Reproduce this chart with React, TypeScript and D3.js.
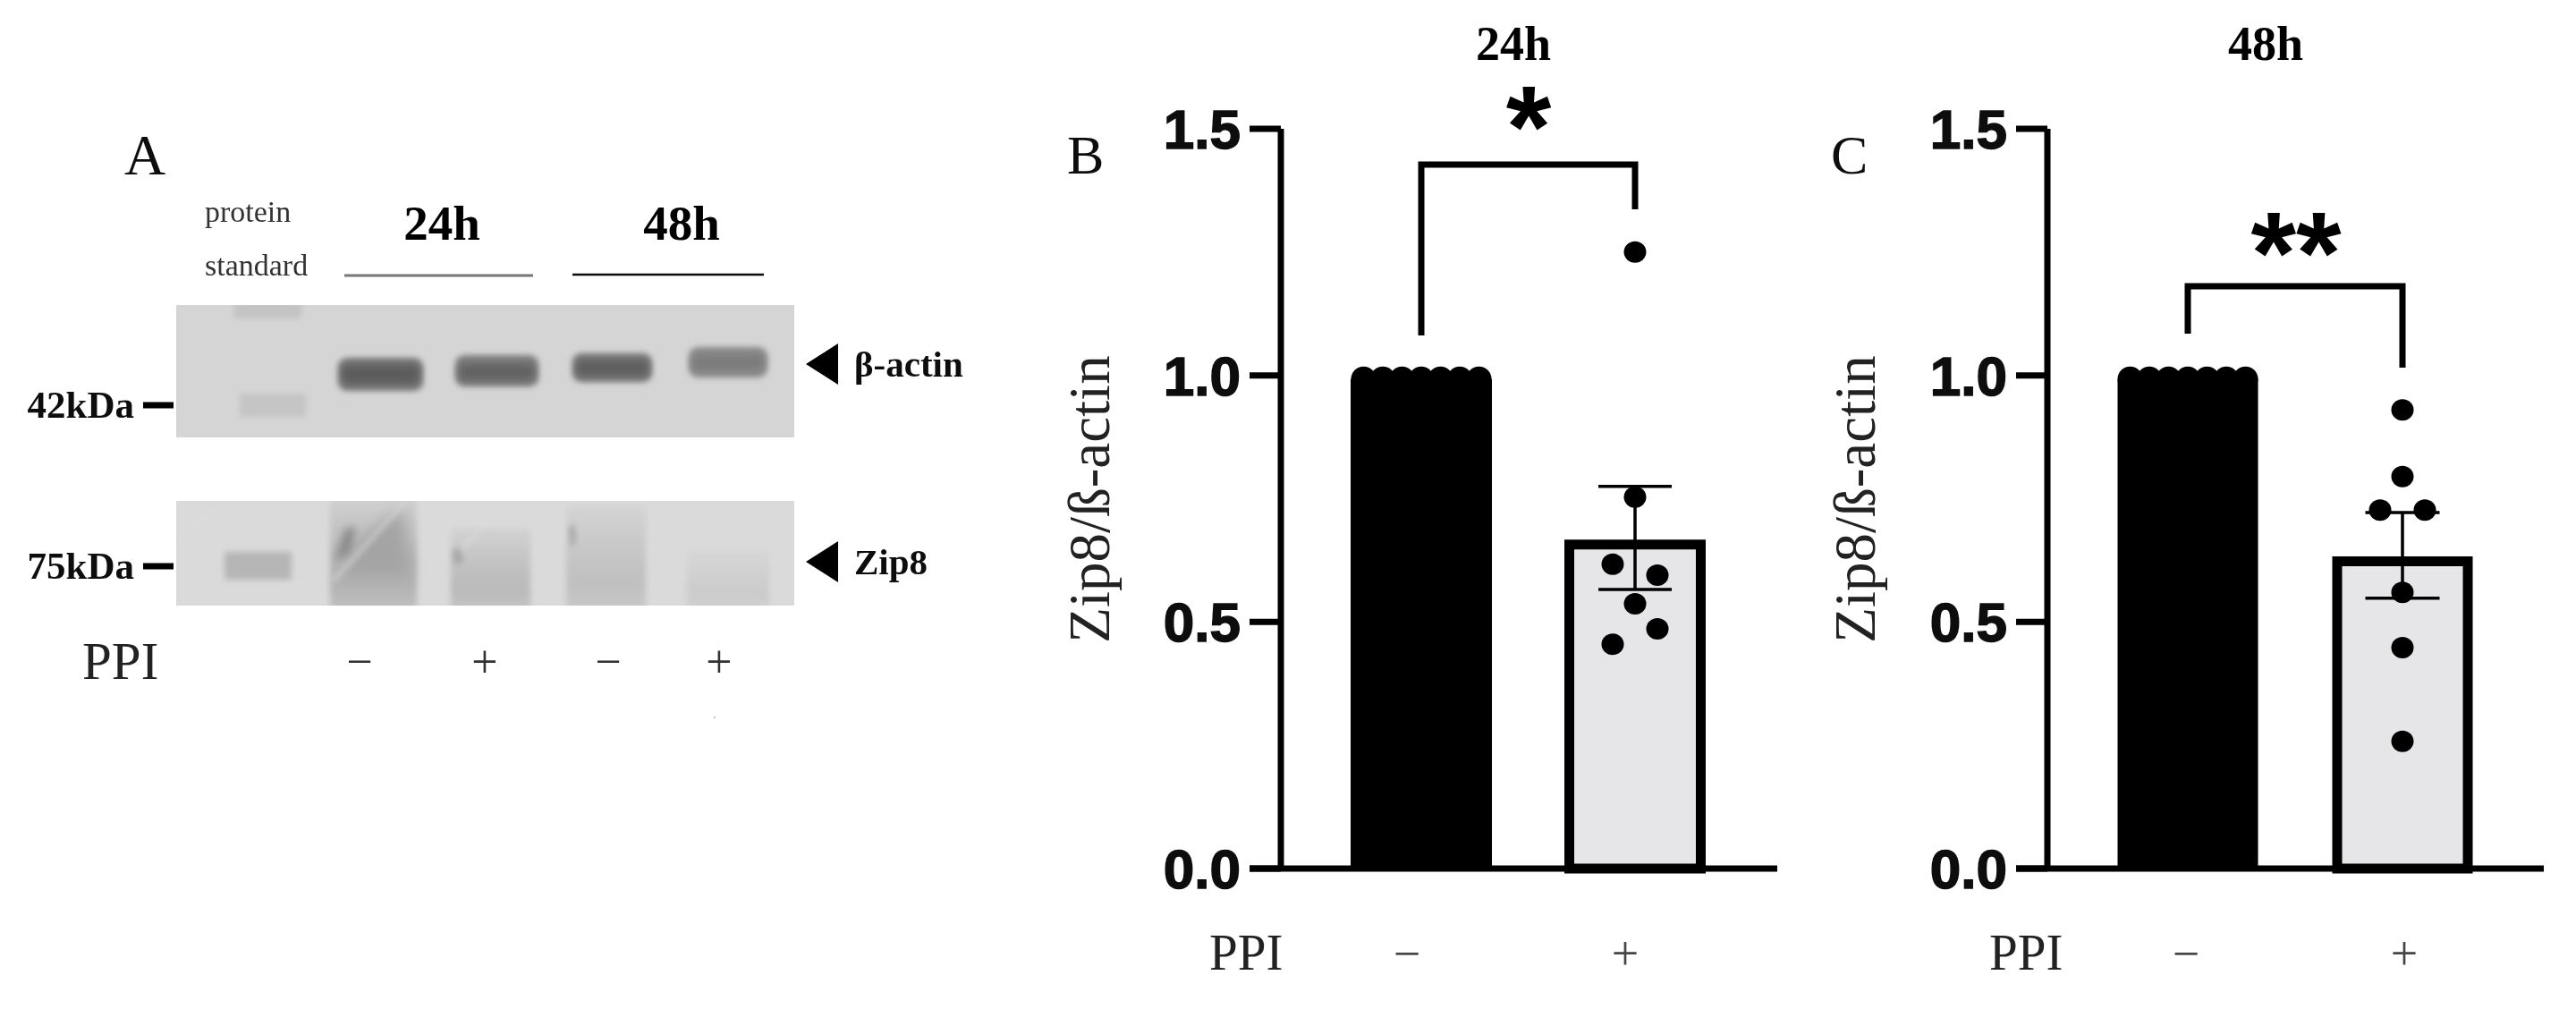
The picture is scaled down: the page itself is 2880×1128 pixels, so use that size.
import React from 'react';
import * as d3 from 'd3';

const yTicks = [0, 0.5, 1, 1.5];
const categories = ['−', '+'];
const controlValues = [1, 1, 1, 1, 1, 1, 1];
const controlOffsets = [-3, -2, -1, 0, 1, 2, 3];

const b_mean = 0.667, b_errHi = 0.775, b_errLo = 0.566;
const b_points = [1.25, 0.753, 0.617, 0.595, 0.537, 0.486, 0.455];
const b_offsets = [0, 0, -1, 1, 0, 1, -1];
const c_mean = 0.633, c_errHi = 0.722, c_errLo = 0.548;
const c_points = [0.93, 0.795, 0.727, 0.727, 0.56, 0.448, 0.258];
const c_offsets = [0, 0, -1, 1, 0, 0, 0];

const panels = [
  { letter: 'B', title: '24h', stars: '*', mean: b_mean, hi: b_errHi, lo: b_errLo, pts: b_points, offs: b_offsets,
    axisX: 1432, tickX: 1397, endX: 1987, c0: 1589, c1: 1828, barW: 158, brTop: 184, brL: 375, brR: 234,
    starX: 1709, starY: 187, titleX: 1692, letterX: 1193, labelX: 1240, ppiX: 1352, minusX: 1573, plusX: 1817, labelCy: 558, capW: 82 },
  { letter: 'C', title: '48h', stars: '**', mean: c_mean, hi: c_errHi, lo: c_errLo, pts: c_points, offs: c_offsets,
    axisX: 2289, tickX: 2254, endX: 2844, c0: 2446, c1: 2686, barW: 157, brTop: 320, brL: 373, brR: 411,
    starX: 2567, starY: 328, titleX: 2533, letterX: 2047, labelX: 2096, ppiX: 2224, minusX: 2444, plusX: 2688, labelCy: 558, capW: 83 },
];

const gelFrames = [
  { x: 197, y: 341, w: 691, h: 148, fill: '#d5d5d5' },
  { x: 197, y: 560, w: 691, h: 117, fill: '#dadada' },
];
const actinHalo = [
  { x: 378, y: 400, w: 95, h: 37, fill: '#7e7e7e' },
  { x: 509, y: 397, w: 93, h: 35, fill: '#808080' },
  { x: 640, y: 395, w: 89, h: 32, fill: '#7b7b7b' },
  { x: 770, y: 388, w: 88, h: 34, fill: '#8c8c8c' },
];
const actinCore = [
  { x: 382, y: 407, w: 87, h: 23, fill: '#5c5c5c' },
  { x: 513, y: 406, w: 85, h: 20, fill: '#636363' },
  { x: 644, y: 402, w: 81, h: 19, fill: '#5f5f5f' },
  { x: 774, y: 396, w: 80, h: 18, fill: '#7c7c7c' },
];
const markerBands = [
  { x: 262, y: 338, w: 75, h: 18, fill: '#c3c3c3' },
  { x: 268, y: 440, w: 74, h: 26, fill: '#c5c5c5' },
  { x: 251, y: 617, w: 75, h: 31, fill: '#b6b6b6' },
];
const zipLanes = [
  { x: 369, y: 555, w: 97, h: 130, o: 0.2 },
  { x: 504, y: 590, w: 89, h: 95, o: 0.16 },
  { x: 633, y: 565, w: 89, h: 120, o: 0.13 },
  { x: 768, y: 615, w: 92, h: 70, o: 0.07 },
];
const zipDark = [
  { pts: '378,645 405,600 450,568 460,645', fill: '#a4a4a4', blur: 'url(#blurLane)' },
  { pts: '374,628 385,592 398,588 392,618', fill: '#8a8a8a', blur: 'url(#blurBand)' },
  { pts: '506,615 515,612 518,628 508,632', fill: '#a8a8a8', blur: 'url(#blurSoft)' },
  { pts: '636,590 642,585 644,605 638,612', fill: '#a8a8a8', blur: 'url(#blurSoft)' },
];
const zipStreaks = [
  'M452,562L372,650',
  'M565,562L515,615',
  'M252,562L197,610',
];
const gelTicks = [
  { label: '42kDa', y: 453 },
  { label: '75kDa', y: 633 },
];
const gelArrows = [
  { label: 'β-actin', y: 407 },
  { label: 'Zip8', y: 628 },
];
const laneSigns = [
  { s: '−', x: 402 }, { s: '+', x: 542 }, { s: '−', x: 680 }, { s: '+', x: 804 },
];

const serif = '"Liberation Serif", serif';
const sans = '"Liberation Sans", sans-serif';

const y = d3.scaleLinear().domain([0, 1.5]).range([971, 144]);

function Panel({ p }: { p: typeof panels[number] }) {
  const x = d3.scalePoint<string>().domain(categories).range([p.c0, p.c1]);
  const c0 = x('−')!, c1 = x('+')!;
  const bw = p.barW, sw = 11;
  const dotStep = 21.5;
  const jitter = 46;
  return (
    <g>
      <text x={p.letterX} y={194} fontFamily={serif} fontSize={62} fill="#111">{p.letter}</text>
      <text x={p.titleX} y={67} textAnchor="middle" fontFamily={serif} fontWeight="bold" fontSize={54} fill="#000">{p.title}</text>
      <text transform={`translate(${p.labelX},${p.labelCy}) rotate(-90)`} textAnchor="middle" fontFamily={serif} fontSize={65} fill="#222">Zip8/ß-actin</text>
      {/* bars */}
      <rect x={c0 - bw / 2} y={y(1) + 4} width={bw} height={y(0) - y(1) - 4} fill="#000" />
      {controlValues.map((v, i) => (
        <circle key={i} cx={c0 + controlOffsets[i] * dotStep} cy={y(v) + 4} r={14} fill="#000" />
      ))}
      <rect x={c1 - bw / 2 + sw / 2} y={y(p.mean) + sw / 2} width={bw - sw} height={y(0) - y(p.mean) - sw / 2} fill="#e6e6e8" stroke="#000" strokeWidth={sw} />
      {/* axes */}
      <path d={`M${p.axisX},${y(1.5)}V${y(0)}`} stroke="#000" strokeWidth={7} fill="none" />
      <path d={`M${p.tickX},${y(0)}H${p.endX}`} stroke="#000" strokeWidth={7} fill="none" />
      {yTicks.map(t => (
        <g key={t}>
          <path d={`M${p.tickX},${y(t)}H${p.axisX}`} stroke="#000" strokeWidth={7} />
          <text x={p.tickX - 10} y={y(t) + 22} textAnchor="end" fontFamily={sans} fontWeight="bold" fontSize={62} fill="#111" stroke="#111" strokeWidth={1.5}>{t.toFixed(1)}</text>
        </g>
      ))}
      {/* error bar */}
      <path d={`M${c1},${y(p.hi)}V${y(p.lo)}M${c1 - p.capW / 2},${y(p.hi)}h${p.capW}M${c1 - p.capW / 2},${y(p.lo)}h${p.capW}`} stroke="#000" strokeWidth={3.5} fill="none" />
      {/* points */}
      {p.pts.map((v, i) => (
        <ellipse key={i} cx={c1 + p.offs[i] * (jitter / 2 + 2)} cy={y(v)} rx={12.5} ry={12} fill="#000" />
      ))}
      {/* bracket */}
      <path d={`M${c0},${p.brL}V${p.brTop}H${c1}V${p.brR}`} stroke="#000" strokeWidth={7} fill="none" />
      <text x={p.starX} y={p.starY} textAnchor="middle" fontFamily={sans} fontWeight="bold" fontSize={130} fill="#000">{p.stars}</text>
      {/* PPI row */}
      <text x={p.ppiX} y={1084} fontFamily={serif} fontSize={57} fill="#222">PPI</text>
      <text x={p.minusX} y={1084} textAnchor="middle" fontFamily={serif} fontSize={54} fill="#444">−</text>
      <text x={p.plusX} y={1084} textAnchor="middle" fontFamily={serif} fontSize={54} fill="#444">+</text>
    </g>
  );
}

export default function App() {
  return (
    <svg width={2880} height={1128} viewBox="0 0 2880 1128" style={{ position: 'absolute', left: 0, top: 0, background: '#fff' }}>
      <defs>
        <filter id="soften" x="0" y="0" width="100%" height="100%"><feGaussianBlur stdDeviation="0.7" /></filter>
        <filter id="blurSoft" x="-50%" y="-50%" width="200%" height="200%"><feGaussianBlur stdDeviation="3" /></filter>
        <filter id="blurBand" x="-30%" y="-60%" width="160%" height="220%"><feGaussianBlur stdDeviation="5" /></filter>
        <filter id="blurLane" x="-30%" y="-30%" width="160%" height="160%"><feGaussianBlur stdDeviation="8" /></filter>
        <linearGradient id="laneFade" x1="0" y1="0" x2="0" y2="1">
          <stop offset="0" stopColor="#000" stopOpacity="0.2" />
          <stop offset="0.55" stopColor="#000" stopOpacity="0.8" />
          <stop offset="0.75" stopColor="#000" stopOpacity="0.9" />
          <stop offset="1" stopColor="#000" stopOpacity="0.55" />
        </linearGradient>
        <clipPath id="gel1"><rect x={197} y={341} width={691} height={148} /></clipPath>
        <clipPath id="gel2"><rect x={197} y={560} width={691} height={117} /></clipPath>
      </defs>
      <g filter="url(#soften)">
      {/* Panel A */}
      <text x={139} y={195} fontFamily={serif} fontSize={64} fill="#111">A</text>
      <text x={229} y={248} fontFamily={serif} fontSize={34} fill="#333">protein</text>
      <text x={229} y={308} fontFamily={serif} fontSize={34} fill="#333">standard</text>
      <text x={494} y={268} textAnchor="middle" fontFamily={serif} fontWeight="bold" fontSize={55} fill="#000">24h</text>
      <text x={762} y={268} textAnchor="middle" fontFamily={serif} fontWeight="bold" fontSize={55} fill="#000">48h</text>
      <path d="M385,308H596" stroke="#777" strokeWidth={3} />
      <path d="M640,307H854" stroke="#111" strokeWidth={2.5} />
      {gelFrames.map((g, i) => <rect key={i} x={g.x} y={g.y} width={g.w} height={g.h} fill={g.fill} />)}
      <g clipPath="url(#gel1)">
        {markerBands.slice(0, 2).map((b, i) => <rect key={i} x={b.x} y={b.y} width={b.w} height={b.h} fill={b.fill} filter="url(#blurSoft)" />)}
        {actinHalo.map((b, i) => <rect key={i} x={b.x} y={b.y} width={b.w} height={b.h} rx={10} fill={b.fill} filter="url(#blurSoft)" />)}
        {actinCore.map((b, i) => <rect key={i} x={b.x} y={b.y} width={b.w} height={b.h} rx={6} fill={b.fill} filter="url(#blurBand)" />)}
      </g>
      <g clipPath="url(#gel2)">
        {zipLanes.map((l, i) => <rect key={i} x={l.x} y={l.y} width={l.w} height={l.h} fill="url(#laneFade)" opacity={l.o} filter="url(#blurSoft)" />)}
        {markerBands.slice(2).map((b, i) => <rect key={i} x={b.x} y={b.y} width={b.w} height={b.h} fill={b.fill} filter="url(#blurSoft)" />)}
        {zipDark.map((l, i) => <polygon key={i} points={l.pts} fill={l.fill} filter={l.blur} />)}
        {zipStreaks.map((d, i) => <path key={i} d={d} stroke="#dcdcdc" strokeWidth={4} fill="none" opacity={0.7} filter="url(#blurSoft)" />)}
      </g>
      {gelTicks.map(t => (
        <g key={t.label}>
          <text x={150} y={t.y + 14} textAnchor="end" fontFamily={serif} fontWeight="bold" fontSize={43} fill="#111">{t.label}</text>
          <path d={`M160,${t.y}H194`} stroke="#000" strokeWidth={7} />
        </g>
      ))}
      {gelArrows.map(a => (
        <g key={a.label}>
          <path d={`M937,${a.y - 23}V${a.y + 23}L901,${a.y}Z`} fill="#000" />
          <text x={955} y={a.y + 14} fontFamily={serif} fontWeight="bold" fontSize={41} fill="#111">{a.label}</text>
        </g>
      ))}
      <text x={92} y={759} fontFamily={serif} fontSize={59} fill="#222">PPI</text>
      {laneSigns.map((s, i) => <text key={i} x={s.x} y={757} textAnchor="middle" fontFamily={serif} fontSize={52} fill="#333">{s.s}</text>)}
      <text x={799} y={803} textAnchor="middle" fontFamily={serif} fontSize={14} fill="#999">.</text>
      {panels.map(p => <Panel key={p.letter} p={p} />)}
      </g>
    </svg>
  );
}
